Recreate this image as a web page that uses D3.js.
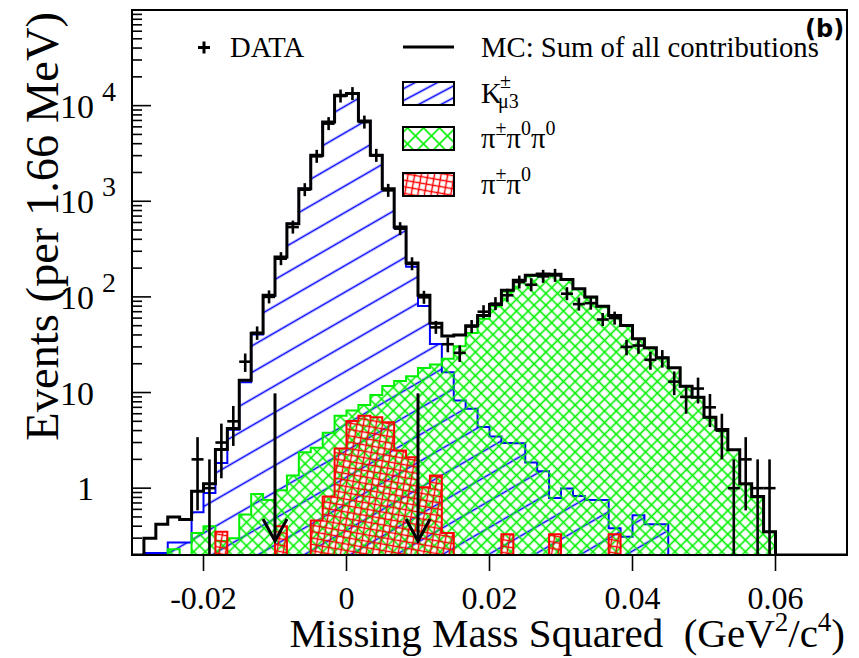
<!DOCTYPE html>
<meta charset="utf-8">
<style>
  body { margin: 0; background: #fff; }
  text { font-family: "Liberation Serif", "Times New Roman", serif; fill: #000; }
</style>
<body>
<div id="chart"></div>
<script src="https://d3js.org/d3.v7.min.js"></script>
<script>

  // 60 bins of 1/600 GeV^2 between -0.03 and 0.07
  const xMin = -0.03, xMax = 0.07, nBins = 60;
  const yMin = 0.2, yMax = 1e5;

  const dataCounts = [0, 0, 0, 0, 0, 2, 1, 3, 5, 21,
    42, 100, 251, 537, 1322, 2950, 6485, 12600, 13360, 6730,
    3020, 1300, 517, 222, 99, 48, 32, 26, 49, 70,
    85, 104, 143, 134, 164, 168, 108, 84, 86, 58,
    60, 30, 31, 22, 23, 13, 9, 11, 7, 4,
    1, 2, 1, 1, 0, 0, 0, 0, 0, 0];

  const mcTotal = [0, 0.30, 0.42, 0.50, 0.47, 0.93, 1.11, 2.54, 4.2, 13.4,
    41.6, 104, 261, 583, 1355, 3020, 6730, 12820, 13360, 6900,
    3020, 1355, 537, 226, 104, 53, 39, 40, 50, 64,
    83.5, 117, 149, 168, 174, 173, 152, 122, 99.5, 79.6,
    64, 50.3, 36.5, 29.4, 23.1, 18.2, 11.6, 8.95, 5.5, 4.1,
    2.52, 1.11, 0.82, 0.35, 0, 0, 0, 0, 0, 0];

  const kmu3 = [0, 0.21, 0.21, 0.27, 0.27, 0.56, 0.89, 1.83, 4.08, 12.8,
    40.5, 103, 259, 581, 1352, 3015, 6725, 12810, 13350, 6887,
    3005, 1338, 521, 207, 80.5, 32.2, 16.3, 8.27, 6.77, 4.35,
    3.47, 2.97, 2.95, 1.86, 1.50, 0.79, 0.99, 0.83, 0.75, 0.75,
    0.38, 0.31, 0.52, 0.42, 0.42, 0, 0, 0, 0, 0,
    0, 0, 0, 0, 0, 0, 0, 0, 0, 0];

  const pi3 = [0, 0, 0, 0.23, 0, 0.34, 0.40, 0.28, 0.30, 0.53,
    0.87, 0.75, 0.95, 1.36, 2.38, 2.65, 3.8, 5.7, 6.5, 7.4,
    9.4, 11.7, 13.2, 14.8, 18, 19.6, 22.6, 30.5, 42, 59,
    80, 113, 145, 165, 171, 170, 150, 120, 98, 78,
    63, 49.5, 36, 29, 22.7, 18, 11.5, 8.8, 5.4, 4.0,
    2.5, 1.1, 0.8, 0.35, 0, 0, 0, 0, 0, 0];

  const pi2 = [0, 0, 0, 0, 0, 0, 0, 0.35, 0, 0,
    0, 0, 0.40, 0, 0, 0.46, 0.82, 2.6, 5.05, 5.7,
    5.5, 4.9, 2.48, 2.1, 1.02, 1.36, 0.34, 0, 0, 0,
    0, 0.33, 0, 0, 0, 0.33, 0, 0, 0, 0,
    0.33, 0, 0, 0, 0, 0, 0, 0, 0, 0,
    0, 0, 0, 0, 0, 0, 0, 0, 0, 0];

  const cutValues = [-0.01, 0.01];
  const cutTop = 9.8, cutTip = 0.28;
  const xTicks = [-0.02, 0, 0.02, 0.04, 0.06];
  const xTickLabels = ["-0.02", "0", "0.02", "0.04", "0.06"];
  const yDecades = [1, 10, 100, 1000, 10000];

  const width = 859, height = 658;
  const frame = {left: 132, right: 847, top: 10, bottom: 555};

  const svg = d3.select("#chart").append("svg")
    .attr("width", width)
    .attr("height", height);

  const x = d3.scaleLinear().domain([xMin, xMax]).range([frame.left, frame.right]);
  const y = d3.scaleLog().domain([yMin, yMax]).range([frame.bottom, frame.top]);
  const binW = (xMax - xMin) / nBins;
  const edge = i => xMin + i * binW;
  const yc = v => y(Math.max(v, yMin));

  // hatch patterns
  const defs = svg.append("defs");

  function lines(id, color, step, angle, cross, sw) {
    const p = defs.append("pattern")
      .attr("id", id)
      .attr("patternUnits", "userSpaceOnUse")
      .attr("width", step)
      .attr("height", step)
      .attr("patternTransform", `rotate(${angle})`);
    p.append("line")
      .attr("x1", 0).attr("x2", step)
      .attr("y1", step / 2).attr("y2", step / 2)
      .attr("stroke", color).attr("stroke-width", sw);
    if (cross) {
      p.append("line")
        .attr("x1", step / 2).attr("x2", step / 2)
        .attr("y1", 0).attr("y2", step)
        .attr("stroke", color).attr("stroke-width", sw);
    }
  }

  const green = "#00f000";
  lines("hatchBlue", "#0000ff", 23, -30, false, 1.6);
  lines("hatchGreen", green, 8.3, 45, true, 1.6);
  lines("hatchRed", "#ff0000", 6.3, 10, true, 1.4);
  lines("legBlue", "#0000ff", 10.5, -28, false, 1.6);
  lines("legGreen", green, 11.3, 45, true, 1.6);
  lines("legRed", "#ff0000", 6.5, 10, true, 1.4);

  defs.append("clipPath").attr("id", "plotArea")
    .append("rect")
    .attr("x", frame.left).attr("y", frame.top)
    .attr("width", frame.right - frame.left)
    .attr("height", frame.bottom - frame.top);

  function stepPath(vals, closed) {
    let p = `M${x(xMin)},${y(yMin)}`;
    vals.forEach((v, i) => {
      p += `L${x(edge(i))},${yc(v)}L${x(edge(i + 1))},${yc(v)}`;
    });
    p += `L${x(xMax)},${y(yMin)}`;
    return closed ? p + "Z" : p;
  }

  const plot = svg.append("g").attr("clip-path", "url(#plotArea)");

  const stack = [
    {vals: kmu3, fill: "url(#hatchBlue)", color: "#0000ff"},
    {vals: pi3, fill: "url(#hatchGreen)", color: green},
    {vals: pi2, fill: "url(#hatchRed)", color: "#ff0000"}
  ];

  stack.forEach(h => {
    plot.append("path")
      .attr("d", stepPath(h.vals, true))
      .attr("fill", h.fill)
      .attr("stroke", h.color)
      .attr("stroke-width", 2)
      .attr("stroke-linejoin", "miter");
  });

  // MC sum
  plot.append("path")
    .attr("d", stepPath(mcTotal, false))
    .attr("fill", "none")
    .attr("stroke", "#000")
    .attr("stroke-width", 3);

  // data points with sqrt(N) errors
  const pts = dataCounts.map((n, i) => ({n, c: edge(i) + binW / 2})).filter(d => d.n > 0);
  const dataG = plot.append("g").attr("stroke", "#000").attr("stroke-width", 2.6);
  pts.forEach(d => {
    const cx = x(d.c), cy = y(d.n), e = Math.sqrt(d.n);
    const top = Math.min(y(d.n + e), cy - 6.5);
    const bot = Math.max(yc(d.n - e), cy + 6.5);
    dataG.append("line").attr("x1", cx).attr("x2", cx).attr("y1", top).attr("y2", bot);
    dataG.append("line").attr("x1", cx - 6).attr("x2", cx + 6).attr("y1", cy).attr("y2", cy);
  });

  // cut arrows
  cutValues.forEach(c => {
    const ax = x(c), tip = y(cutTip);
    const g = svg.append("g").attr("stroke", "#000").attr("stroke-width", 3).attr("fill", "none");
    g.append("line").attr("x1", ax).attr("x2", ax).attr("y1", y(cutTop)).attr("y2", tip);
    g.append("path").attr("d", `M${ax - 12},${tip - 22}L${ax},${tip}L${ax + 12},${tip - 22}`);
  });

  // frame and axes
  svg.append("rect")
    .attr("x", frame.left).attr("y", frame.top)
    .attr("width", frame.right - frame.left)
    .attr("height", frame.bottom - frame.top)
    .attr("fill", "none").attr("stroke", "#000").attr("stroke-width", 2);

  const axisG = svg.append("g").attr("stroke", "#000").attr("stroke-width", 1.6);
  xTicks.forEach(t => {
    axisG.append("line").attr("x1", x(t)).attr("x2", x(t))
      .attr("y1", frame.bottom).attr("y2", frame.bottom + 16);
  });
  for (let e = -1; e <= 4; e++) {
    for (let m = 1; m <= 9; m++) {
      const v = m * Math.pow(10, e);
      if (v < yMin || v > yMax) continue;
      const len = m === 1 ? 19 : 10;
      axisG.append("line").attr("x1", frame.left).attr("x2", frame.left + len)
        .attr("y1", y(v)).attr("y2", y(v));
    }
  }

  svg.selectAll(".xlab").data(xTicks).enter().append("text")
    .attr("class", "xlab")
    .attr("x", d => x(d))
    .attr("y", 609)
    .attr("text-anchor", "middle")
    .attr("font-size", 32)
    .text((d, i) => xTickLabels[i]);

  yDecades.forEach(v => {
    const exp = Math.round(Math.log10(v));
    const ty = y(v) + 12;
    svg.append("text")
      .attr("x", 94).attr("y", ty)
      .attr("text-anchor", "end")
      .attr("font-size", 34)
      .text(exp === 0 ? "1" : "10");
    if (exp >= 2) {
      svg.append("text")
        .attr("x", 102).attr("y", ty - 17)
        .attr("font-size", 28)
        .text(exp);
    }
  });

  // axis titles
  const xt = svg.append("text")
    .attr("x", 845).attr("y", 647)
    .attr("text-anchor", "end")
    .attr("font-size", 41);
  xt.append("tspan").text("Missing Mass Squared\u00a0\u00a0(GeV");
  xt.append("tspan").attr("font-size", 27).attr("dy", -16).text("2");
  xt.append("tspan").attr("dy", 16).text("/c");
  xt.append("tspan").attr("font-size", 27).attr("dy", -16).text("4");
  xt.append("tspan").attr("dy", 16).text(")");

  svg.append("text")
    .attr("transform", "translate(58,12) rotate(-90)")
    .attr("text-anchor", "end")
    .attr("font-size", 46.5)
    .text("Events (per 1.66 MeV)");

  svg.append("text")
    .attr("x", 805).attr("y", 37)
    .attr("font-weight", "bold")
    .attr("font-size", 24)
    .style("font-family", "'DejaVu Sans', sans-serif")
    .text("(b)");

  // legend
  const leg = svg.append("g");
  leg.append("path").attr("d", "M198,47.5H210M204,41.5V53.5")
    .attr("stroke", "#000").attr("stroke-width", 3);
  leg.append("text").attr("x", 230).attr("y", 57).attr("font-size", 28.7).text("DATA");
  leg.append("line").attr("x1", 403).attr("x2", 454).attr("y1", 47).attr("y2", 47)
    .attr("stroke", "#000").attr("stroke-width", 3);
  leg.append("text").attr("x", 481).attr("y", 57).attr("font-size", 28.7)
    .text("MC: Sum of all contributions");

  const boxes = [
    {y: 82, fill: "url(#legBlue)"},
    {y: 127, fill: "url(#legGreen)"},
    {y: 173, fill: "url(#legRed)"}
  ];
  boxes.forEach(b => {
    leg.append("rect").attr("x", 403).attr("y", b.y).attr("width", 51).attr("height", 23)
      .attr("fill", b.fill).attr("stroke", "#000").attr("stroke-width", 2);
  });

  leg.append("text").attr("x", 481).attr("y", 103).attr("font-size", 28.7).text("K");
  leg.append("text").attr("x", 500).attr("y", 88).attr("font-size", 20).text("±");
  leg.append("text").attr("x", 498).attr("y", 108).attr("font-size", 20).text("μ3");

  // pion labels: each π carries a superscript charge
  function piLabel(yb, charges) {
    const t = leg.append("text").attr("x", 481).attr("y", yb).attr("font-size", 28.7);
    charges.forEach((s, k) => {
      t.append("tspan").attr("dy", k > 0 ? 13 : 0).text("π");
      t.append("tspan").attr("font-size", 20).attr("dy", -13).text(s);
    });
  }
  piLabel(148, ["±", "0", "0"]);
  piLabel(194, ["±", "0"]);

</script>
